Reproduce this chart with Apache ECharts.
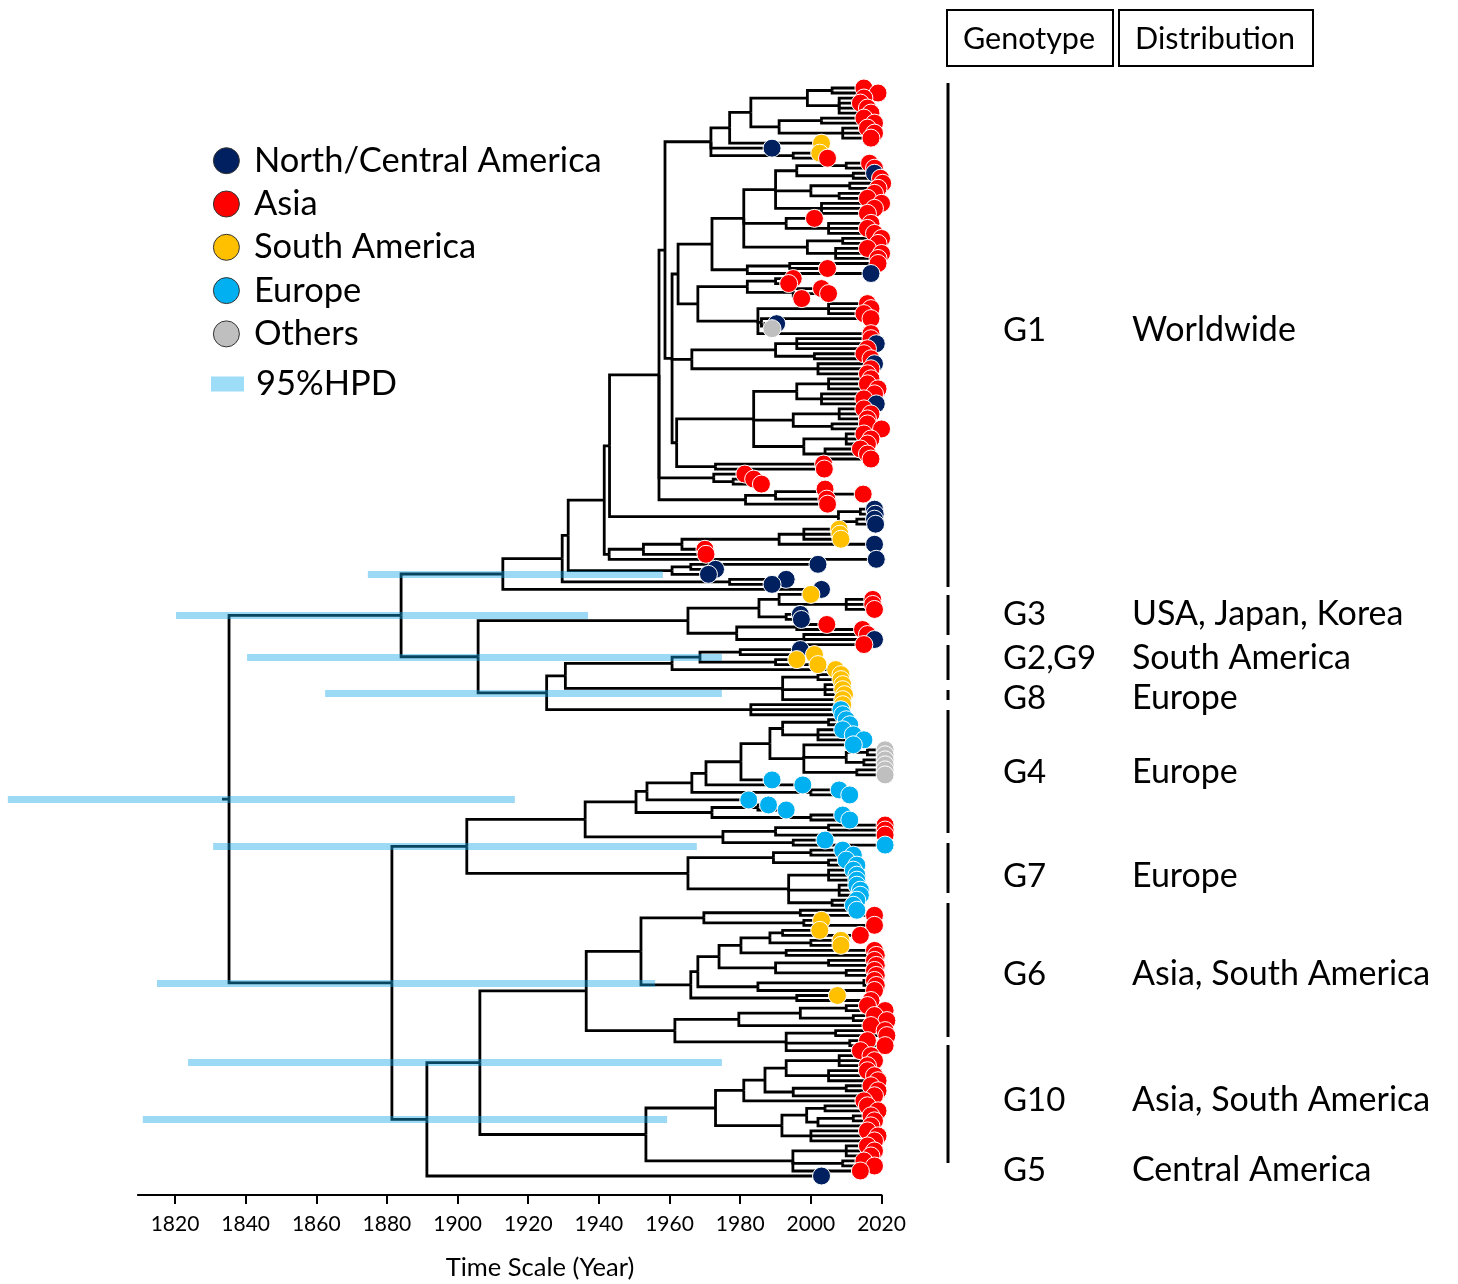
<!DOCTYPE html>
<html><head><meta charset="utf-8">
<script src="https://cdn.jsdelivr.net/npm/echarts@6/dist/echarts.min.js"></script>
<style>html,body{margin:0;padding:0;background:#fff;}#c{width:1458px;height:1284px;}</style>
</head><body><div id="c"></div>
<script>
// ---------------- DATA ----------------
// Internal node: [year, child, child, ...]; tip: region letter + year
// N = North/Central America, A = Asia, S = South America, E = Europe, O = Others
const regionCodes = ['N', 'A', 'S', 'E', 'O'];
const regionNames = ['North/Central America', 'Asia', 'South America', 'Europe', 'Others'];
const regionColors = ['#002060', '#FF0000', '#FFC000', '#00B0F0', '#BFBFBF'];

const TOP = [1971.7,
  [1977,
    [1983,
      [1999, [2006, "A2015", "A2019"], [2008, "A2015", "A2014", "A2016", "A2017"]],
      [1991, [2003, "A2015", "A2018"], [2009, "A2016", "A2018", "A2017"]]],
    "S2003"],
  "N1989",
  [1995, "S2002.5", "A2004.7"]];

const MID1 = [1962.4,
  [1972,
    [1981,
      [1990,
        [1996, [2010, "A2016.6", "A2018"], [2012, "N2018", "A2019.7"]],
        [2000, [2011, "A2020.3", "A2019"], [2008, "A2018", "A2016"]],
        [2003, "A2020", "A2018", "A2016"]],
      [1993, "A2001", [2005, "A2017", "A2016", "A2018"]],
      [1999, [2009, "A2020", "A2019"], [2007, "A2016", "A2020", "A2019"]]],
    [1982, [1994, "A2019", "A2004.7"], "N2017"]],
  [1968,
    [1982, [1990, "A1995", "A1993.7"], [1995, "A2003", [1996, "A2005", "A1997.4"]]],
    [1985, [2005, "A2016", "A2017", "A2015"], [1986, "A2017", [1987, "N1990.3", "O1989"]], "A2017"]]];

const MID2a = [1966.3,
  [1990, [1996, "A2017", "N2018.5", "A2016"], [2001, "A2015", "A2017"]],
  [2002, "N2018", "A2017", "A2016"]];

const MID2b = [1983.8,
  [1996, [2005, "A2017", "A2016", "A2019"], [2003, "A2018", "A2015", "N2018.5"]],
  [1995, [2008, "A2015", "A2017", "A2016"], [2006, "A2016", "A2020"]],
  [1998, [2010, "A2015", "A2017", "A2016"], [2004, "A2014", "A2016", "A2017"]]];

const G1X = [1957,
  [1958.7, TOP, [1960.7, MID1, MID2a, [1962, MID2b, [1973, "A2003.6", "A2003.8"]]]],
  [1972.5, "A1981.3", [1978, "A1983.8", "A1986"]],
  [1981.5, [1990, [2003, "A2004", "A2014.8"], "A2004.5"], "A2004.7"]];

const G1 = [1912.8,
  [1929.6,
    [1931.3,
      [1941.5,
        [1943, G1X, [2007.8, [2014, "N2018", "N2018.2"], [2013, "N2018", "N2018.3"]]],
        [1942.9, [1952.6, [1963.5, [1991, [1998, "S2008", "S2008.2", "S2008.5"], "N2018"], "A1970"], "A1970.3"], "N2018.5"]],
      [1960.7, [1966, "N2002", "N1973"], "N1971"]],
    [1977, "N1993", "N1989"]],
  "N2003"];

const G3 = [1965.2,
  [1985.3, [1991, "S2000", [2010, "A2017.5", "A2017.5", "A2018"]], [1993, "N1997", "N1997.3"]],
  [1979, [1996, "A2004.5", "A2014.6"], [1998, "A2016", "N2018", "A2015"]]];

const G2G9 = [1930.5,
  [1960.7, [1968.6, [1980, "N1997", "S2001"], [1990, "S1996", "S2002"]], "S2007"],
  [1992, [2002, "S2008.5", "S2008.5"], [2004, "S2009", "S2009", "S2009.5"], "S2009"]];

const G8 = [1983, "S2009", "E2008.5", "E2009"];

const G4 = [1936.1,
  [1950.5,
    [1953.6,
      [1966.3,
        [1970.3,
          [1980.2,
            [1988.4,
              [1992, [2005, "E2010", "E2011"], [2002, "E2009", "E2012", "E2015"]],
              [1998, "E2012", [2010, [2016, "O2021", "O2021"], [2015, "O2021", "O2021"]], [2013, "O2021", "O2021"]]],
            "E1989"],
          "E1997.7"],
        [2000, "E2008", "E2011"]],
      "E1982.4"],
    [1972, [1985, "E1988", "E1993"], [2000, "E2009", "E2011"]]],
  [1975.1, [1990, [2005, "A2021", "A2021"], "A2021"], [1995, "E2004", "E2021"]]];

const G7 = [1965.2,
  [1989.4, [2000, "E2009", "E2012"], [2005, "E2010", "E2013"]],
  [1993.7, [2005, "E2012", "E2013", "E2013"], [2008, "E2013", "E2014", "E2014"], [2006, "E2013", "E2012"]]];

const G6 = [1936.4,
  [1951.9,
    [1969.7, [1997, "E2013", "A2018"], [1998, "S2003", "A2018"]],
    [1966,
      [1968,
        [1974,
          [1980.2, [1988.4, [1992, "S2002.5", "A2014"], [2000, "S2008.5", "S2008.5"]], [1993, "A2018", "A2018.5"]],
          [1990, [2005, "A2018", "A2018.5"], [2010, "A2018", "A2018.5"]]],
        [1985, [2015, "A2018", "A2018.5"], "A2018"]],
      [1996, "S2007.5", "A2017"]]],
  [1961.5,
    [1979.6, [1997, [2010, "A2016", "A2021"], [2012, "A2018", "A2021.5"]], "A2017"],
    [1993, [2007, "A2021", "A2021.5"], [2011, "A2016", "A2021"], "A2014"]]];

const G10 = [1953.3,
  [1973,
    [1981, [1987, [1993, [2008, "A2017", "A2018", "A2016"], [2005, "A2016", "A2018", "A2019"]], [1995, [2010, "A2017", "A2019"], "A2018"]], "A2015"],
    [1991.8, [1998.8, [2004, "A2016", "A2019"], [2002, [2012, "A2017", "A2018"], "A2017"]], [2000, "A2016", "A2019", "A2018"]]],
  [1994.9, [2010, "A2016", "A2018", "A2017"], [2009, "A2015", "A2018"], "A2014"]];

const G5 = "N2003";

const TREE = [1835.3,
  [1884, G1, [1905.8, G3, [1925.2, G2G9, G8]]],
  [1881.4, [1902.6, G4, G7], [1891.3, [1906.3, G6, G10], G5]]];

// 95% HPD intervals: node year, lower, upper
const hpdNode = [1835.3, 1884, 1912.8, 1905.8, 1925.2, 1881.4, 1902.6, 1906.3, 1891.3];
const hpdLow  = [1772.7, 1820.3, 1874.6, 1840.4, 1862.5, 1814.9, 1830.8, 1823.7, 1810.9];
const hpdHigh = [1916.2, 1936.9, 1958.1, 1974.8, 1974.8, 1955.9, 1967.7, 1974.8, 1959.3];

const tickYears = [1820, 1840, 1860, 1880, 1900, 1920, 1940, 1960, 1980, 2000, 2020];

const genoNames = ['G1', 'G3', 'G2,G9', 'G8', 'G4', 'G7', 'G6', 'G10', 'G5'];
const genoDist = ['Worldwide', 'USA, Japan, Korea', 'South America', 'Europe', 'Europe', 'Europe',
  'Asia, South America', 'Asia, South America', 'Central America'];

// ---------------- LAYOUT (annotation positions, px) ----------------
const genoLabelY = [330, 614, 658, 698, 772, 876, 974, 1100, 1170];
const genoBarY = [[83, 587], [595, 635], [645, 680], [690, 700], [710, 833], [843, 893], [903, 1037], [1045, 1163]];

// ---------------- TREE LAYOUT ----------------
const tips = [], branches = [], nodeY = new Map();
function lay(n) {
  if (typeof n === 'string') {
    const i = tips.length; const yr = parseFloat(n.slice(1));
    tips.push([yr, i, n[0]]);
    return [yr, i];
  }
  const kids = n.slice(1).map(lay);
  const y = (kids[0][1] + kids[kids.length - 1][1]) / 2;
  kids.forEach(k => branches.push([[n[0], y], [n[0], k[1]], [k[0], k[1]]]));
  if (!nodeY.has(n[0])) nodeY.set(n[0], y);
  return [n[0], y];
}
const rootInfo = lay(TREE);
branches.push([[TREE[0] - 2, rootInfo[1]], [TREE[0], rootInfo[1]]]);
const nTips = tips.length;

const hpdLines = hpdNode.map((yr, i) => ({ coords: [[hpdLow[i], nodeY.get(yr)], [hpdHigh[i], nodeY.get(yr)]] }));

// ---------------- CHART ----------------
const FONT = 'Lato, "Open Sans", sans-serif';
const chart = echarts.init(document.getElementById('c'), null, { renderer: 'canvas' });
const pxPerTip = 1088 / (nTips - 1);

const legendSeries = regionNames.map((nm, i) => ({
  name: nm, type: 'scatter', data: [], itemStyle: { color: regionColors[i], opacity: 1 }
}));
legendSeries.push({ name: '95%HPD', type: 'scatter', data: [], itemStyle: { color: '#9DDDF7', opacity: 1 } });

chart.setOption({
  animation: false,
  backgroundColor: '#fff',
  grid: [
    { left: 5.4, width: 911.5, top: 88 - pxPerTip, height: pxPerTip * (nTips + 1) },
    { left: 137.9, width: 743.6, top: 1194, height: 1 }
  ],
  xAxis: [
    { gridIndex: 0, type: 'value', min: 1772, max: 2030, show: false },
    { gridIndex: 1, type: 'value', min: 1809.5, max: 2020,
      axisLine: { show: true, lineStyle: { color: '#000', width: 2 } },
      axisTick: { show: true, customValues: tickYears, length: 9, lineStyle: { color: '#000', width: 2 } },
      axisLabel: { customValues: tickYears, color: '#000', fontSize: 21, margin: 19, fontFamily: FONT,
        formatter: v => String(v) },
      splitLine: { show: false } }
  ],
  yAxis: [
    { gridIndex: 0, type: 'value', min: -1, max: nTips, inverse: true, show: false },
    { gridIndex: 1, type: 'value', show: false }
  ],
  legend: [
    {
      data: regionNames.map(n => ({ name: n, icon: 'circle' })),
      orient: 'vertical', left: 207.9, top: 138.2, itemWidth: 33, itemHeight: 26, itemGap: 8.3,
      selectedMode: false,
      itemStyle: { borderColor: '#333', borderWidth: 1 },
      textStyle: { fontSize: 34.5, color: '#000', fontFamily: FONT, padding: [0, 0, 0, 6] }
    },
    {
      data: [{ name: '95%HPD', icon: 'path://M0,0H33V15H0Z' }],
      orient: 'vertical', left: 206, top: 361.5, itemWidth: 33, itemHeight: 26,
      selectedMode: false,
      textStyle: { fontSize: 34.5, color: '#000', fontFamily: FONT, padding: [0, 0, 0, 7] }
    }
  ],
  series: [
    { type: 'lines', coordinateSystem: 'cartesian2d', xAxisIndex: 0, yAxisIndex: 0, polyline: true,
      silent: true, z: 2, clip: false,
      lineStyle: { color: '#000', width: 2.8, opacity: 1, join: 'miter' },
      data: branches.map(c => ({ coords: c })) },
    { type: 'lines', coordinateSystem: 'cartesian2d', xAxisIndex: 0, yAxisIndex: 0,
      silent: true, z: 3, clip: false,
      lineStyle: { color: 'rgba(20,165,230,0.42)', width: 7, opacity: 1, cap: 'butt' },
      data: hpdLines },
    { type: 'scatter', xAxisIndex: 0, yAxisIndex: 0, z: 4, clip: false, silent: true,
      symbol: 'circle', symbolSize: 18,
      itemStyle: { borderColor: '#fff', borderWidth: 1, opacity: 1 },
      data: tips.map(t => ({ value: [t[0], t[1]], itemStyle: { color: regionColors[regionCodes.indexOf(t[2])] } })) }
  ].concat(legendSeries)
});

// ---------------- ANNOTATIONS ----------------
const g = [];
g.push({ type: 'rect', shape: { x: 947, y: 10, width: 166, height: 56 }, style: { fill: '#fff', stroke: '#000', lineWidth: 2 } });
g.push({ type: 'rect', shape: { x: 1119, y: 10, width: 194, height: 56 }, style: { fill: '#fff', stroke: '#000', lineWidth: 2 } });
g.push({ type: 'text', x: 1029, y: 39, style: { text: 'Genotype', fontSize: 30.5, fontFamily: FONT, fill: '#000', align: 'center', verticalAlign: 'middle' } });
g.push({ type: 'text', x: 1215, y: 39, style: { text: 'Distribution', fontSize: 30.5, fontFamily: FONT, fill: '#000', align: 'center', verticalAlign: 'middle' } });
genoBarY.forEach(b => {
  g.push({ type: 'line', shape: { x1: 948, y1: b[0], x2: 948, y2: b[1] }, style: { stroke: '#000', lineWidth: 3 } });
});
genoNames.forEach((nm, i) => {
  const yc = genoLabelY[i];
  g.push({ type: 'text', x: 1003, y: yc, style: { text: nm, fontSize: 33, fontFamily: FONT, fill: '#000', align: 'left', verticalAlign: 'middle' } });
  g.push({ type: 'text', x: 1132, y: yc, style: { text: genoDist[i], fontSize: 34, fontFamily: FONT, fill: '#000', align: 'left', verticalAlign: 'middle' } });
});
g.push({ type: 'text', x: 540, y: 1268, style: { text: 'Time Scale (Year)', fontSize: 25.5, fontFamily: FONT, fill: '#000', align: 'center', verticalAlign: 'middle' } });
chart.setOption({ graphic: g });
</script></body></html>
